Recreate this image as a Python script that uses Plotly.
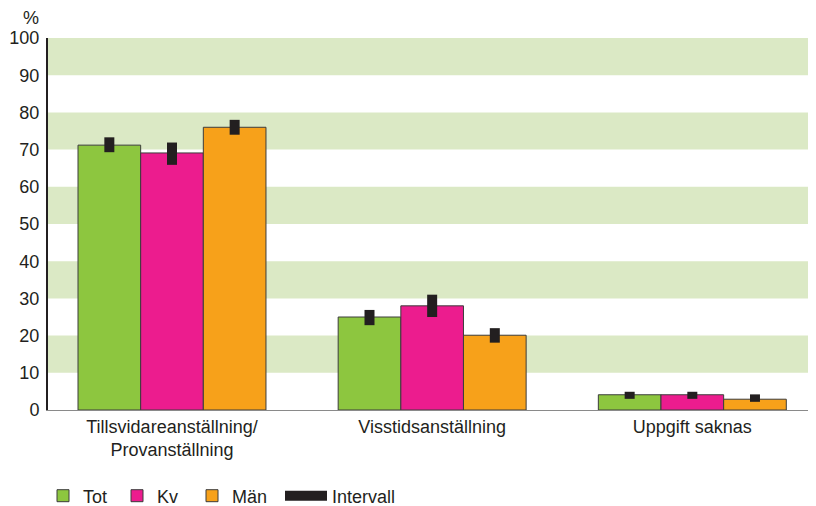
import plotly.graph_objects as go

categories = ["Tillsvidareanställning/<br>Provanställning", "Visstidsanställning", "Uppgift saknas"]
series_names = ["Tot", "Kv", "Män"]
tot_values = [71.2, 25.0, 4.1]
kv_values = [69.1, 28.0, 4.1]
man_values = [76.0, 20.1, 2.9]
tot_low = [69.3, 22.8, 3.0]
tot_high = [73.3, 26.9, 4.9]
kv_low = [65.9, 25.0, 3.0]
kv_high = [71.9, 31.0, 4.9]
man_low = [74.0, 18.1, 2.2]
man_high = [78.0, 22.0, 4.2]
interval_name = "Intervall"
y_ticks = [0, 10, 20, 30, 40, 50, 60, 70, 80, 90, 100]
band_ranges = [(10, 20), (30, 40), (50, 60), (70, 80), (90, 100)]

colors = ["#8dc63f", "#ec1c8e", "#f7a11a"]
dark = "#231f20"
font_family = "Liberation Sans, Arial, sans-serif"

values = [tot_values, kv_values, man_values]
lows = [tot_low, kv_low, man_low]
highs = [tot_high, kv_high, man_high]

# page has an 8px body margin; figure is sized so it fills the window exactly
OFF = 8
W, H = 816 - OFF, 506 - OFF
ml, mr, mt = 48 - OFF, 0, 38 - OFF
pw = W - ml - mr
ph = 372
mb = H - mt - ph

legend_start_px = [43, 117, 192, 280]  # page px where each legend item starts
legend_itemwidths = [30, 30, 30, 42]

fig = go.Figure()

for i, name in enumerate(series_names):
    v = values[i]
    plus = [h - val for h, val in zip(highs[i], v)]
    minus = [val - l for l, val in zip(lows[i], v)]
    fig.add_trace(go.Bar(
        x=categories, y=v, name=name,
        marker=dict(color=colors[i], line=dict(color="#3c3c3c", width=1)),
        error_y=dict(type="data", symmetric=False, array=plus, arrayminus=minus,
                     color=dark, thickness=10, width=0),
        legend="legend" if i == 0 else f"legend{i+1}",
    ))

fig.add_trace(go.Scatter(
    x=[None], y=[None], mode="lines", name=interval_name,
    line=dict(color=dark, width=10), legend="legend4",
))

shapes = []
for lo, hi in band_ranges:
    shapes.append(dict(type="rect", xref="paper", yref="y", x0=0, x1=1, y0=lo, y1=hi,
                       fillcolor="#dbe9c5", line=dict(width=0), layer="below"))

legend_common = dict(orientation="h", yanchor="middle", xanchor="left",
                     font=dict(family=font_family, size=18, color=dark),
                     bgcolor="rgba(0,0,0,0)", borderwidth=0)
legend_y = -((496 - OFF) - (mt + ph)) / ph
layout_legends = {}
for k, sx in enumerate(legend_start_px):
    key = "legend" if k == 0 else f"legend{k+1}"
    xp = sx - OFF
    layout_legends[key] = dict(legend_common, x=(xp - ml) / pw, y=legend_y,
                               itemwidth=legend_itemwidths[k])

fig.update_layout(
    width=W, height=H,
    margin=dict(l=ml, r=mr, t=mt, b=mb, autoexpand=False),
    plot_bgcolor="white", paper_bgcolor="white",
    barmode="group", bargap=0.2775, bargroupgap=0,
    font=dict(family=font_family, size=18, color=dark),
    shapes=shapes,
    showlegend=True,
    **layout_legends,
    xaxis=dict(type="category", range=[-0.4766, 2.4754], showline=True,
               linecolor="#8a8a8a", linewidth=1, ticks="", showgrid=False,
               tickfont=dict(size=18, color=dark), fixedrange=True, automargin=False),
    yaxis=dict(range=[0, 100], tickvals=y_ticks, showline=True, linecolor=dark,
               linewidth=2, ticks="", showgrid=False, zeroline=False,
               ticklabelstandoff=3,
               tickfont=dict(size=18, color=dark), fixedrange=True, automargin=False),
    annotations=[dict(text="%", xref="paper", yref="paper",
                      x=(31 - OFF - ml) / pw, y=1 + (mt - (18 - OFF)) / ph,
                      xanchor="center", yanchor="middle", showarrow=False,
                      font=dict(size=18, color=dark, family=font_family))],
)

fig.write_html("out.html")
